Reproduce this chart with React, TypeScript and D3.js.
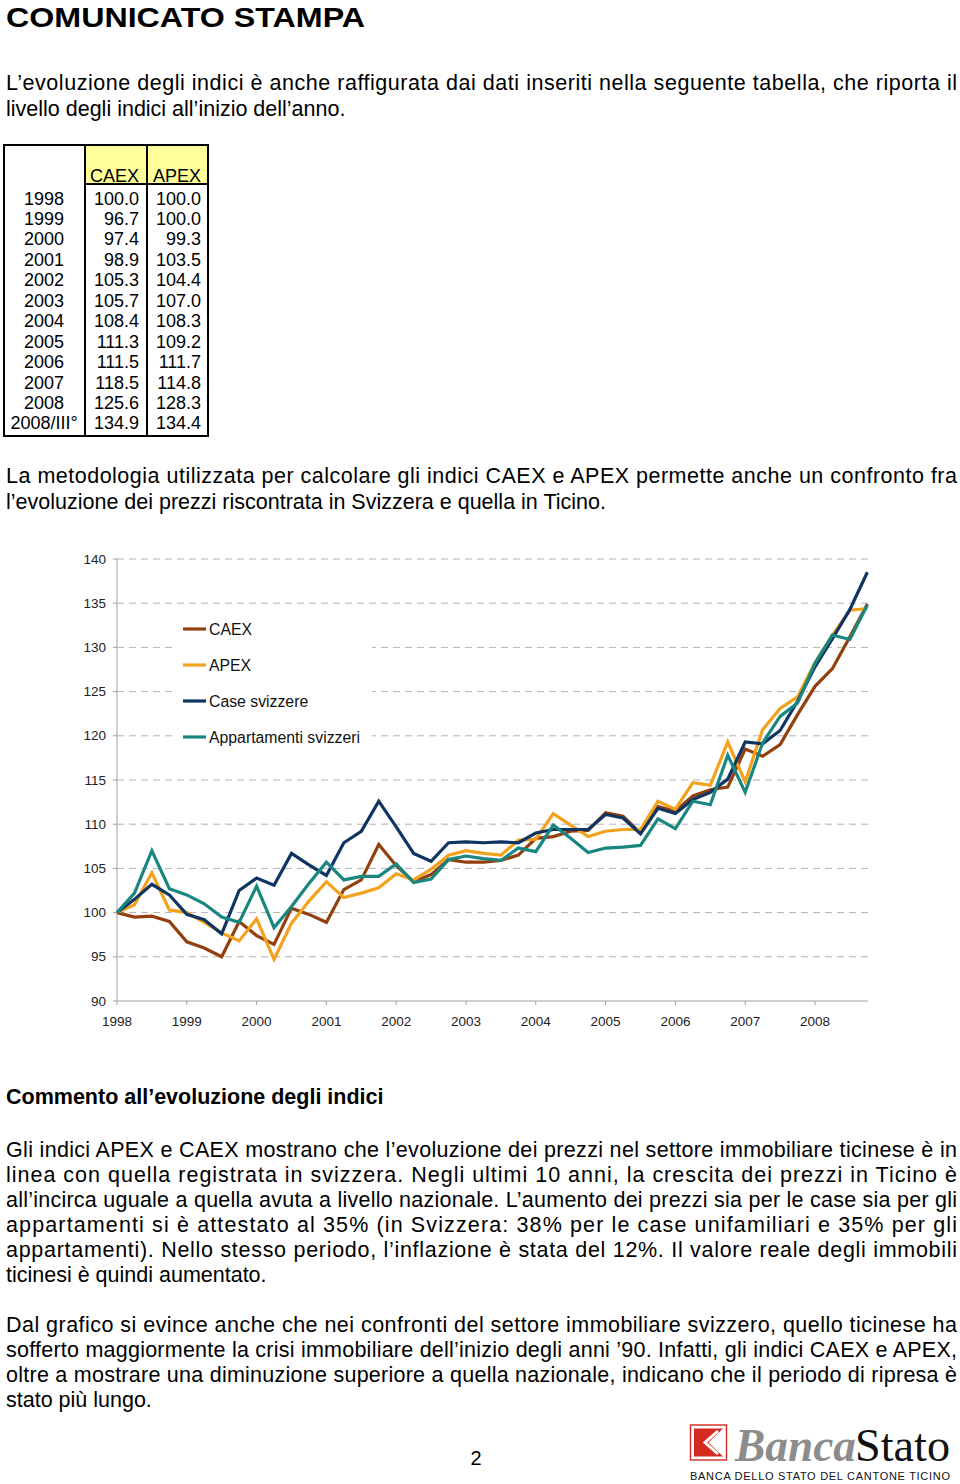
import React from "react";
import * as d3 from "d3";

// ---------- DATA ----------
const yearLabels = ["1998", "1999", "2000", "2001", "2002", "2003", "2004", "2005", "2006", "2007", "2008"];
const yTicks = [90, 95, 100, 105, 110, 115, 120, 125, 130, 135, 140];

// quarterly values, 1998 Q1 ... 2008 Q4
const caex = [
  100.0, 99.5, 99.6, 99.0, 96.7, 96.0, 95.0, 99.0, 97.4, 96.4, 100.5, 99.8,
  98.9, 102.6, 103.7, 107.7, 105.3, 103.5, 104.3, 106.0, 105.7, 105.7, 105.9, 106.5,
  108.4, 108.6, 109.2, 109.3, 111.3, 110.9, 109.0, 112.0, 111.5, 113.2, 113.9, 114.2,
  118.5, 117.7, 119.0, 122.4, 125.6, 127.6, 131.2, 134.9,
];
const apex = [
  100.0, 100.9, 104.5, 100.3, 100.0, 98.9, 97.7, 96.8, 99.3, 94.7, 98.8, 101.3,
  103.5, 101.7, 102.2, 102.8, 104.4, 103.7, 104.9, 106.5, 107.0, 106.7, 106.5, 108.2,
  108.3, 111.2, 109.9, 108.6, 109.2, 109.4, 109.4, 112.6, 111.7, 114.7, 114.4, 119.3,
  114.8, 120.7, 123.1, 124.4, 128.3, 131.4, 134.2, 134.4,
];
const caseSvizzere = [
  100.0, 101.5, 103.2, 102.0, 99.8, 99.2, 97.6, 102.5, 103.9, 103.1, 106.7, 105.4,
  104.2, 107.9, 109.2, 112.6, 109.7, 106.7, 105.8, 107.9, 108.0, 107.9, 108.0, 107.9,
  109.0, 109.4, 109.4, 109.4, 111.1, 110.7, 108.9, 111.8, 111.2, 112.8, 113.6, 115.1,
  119.3, 119.1, 120.6, 123.9, 127.8, 131.0, 134.3, 138.5,
];
const appartamentiSvizzeri = [
  100.0, 102.2, 107.0, 102.7, 102.0, 101.0, 99.5, 98.9, 103.0, 98.3, 100.7, 103.3,
  105.7, 103.7, 104.1, 104.1, 105.5, 103.4, 103.8, 106.0, 106.4, 106.1, 105.9, 107.3,
  106.9, 109.9, 108.4, 106.8, 107.3, 107.4, 107.6, 110.6, 109.5, 112.6, 112.2, 117.8,
  113.6, 119.2, 122.2, 123.7, 128.2, 131.4, 130.9, 134.8,
];
const seriesNames = ["CAEX", "APEX", "Case svizzere", "Appartamenti svizzeri"];
const seriesColors = ["#93400f", "#f2a21c", "#0f3563", "#19877f"];
const seriesValues = [caex, apex, caseSvizzere, appartamentiSvizzeri];

// table
const tableYears = ["1998", "1999", "2000", "2001", "2002", "2003", "2004", "2005", "2006", "2007", "2008", "2008/III°"];
const tableCAEX = ["100.0", "96.7", "97.4", "98.9", "105.3", "105.7", "108.4", "111.3", "111.5", "118.5", "125.6", "134.9"];
const tableAPEX = ["100.0", "100.0", "99.3", "103.5", "104.4", "107.0", "108.3", "109.2", "111.7", "114.8", "128.3", "134.4"];

// texts
const title = "COMUNICATO STAMPA";
const para1 = [
  "L’evoluzione degli indici è anche raffigurata dai dati inseriti nella seguente tabella, che riporta il",
  "livello degli indici all’inizio dell’anno.",
];
const para2 = [
  "La metodologia utilizzata per calcolare gli indici CAEX e APEX permette anche un confronto fra",
  "l’evoluzione dei prezzi riscontrata in Svizzera e quella in Ticino.",
];
const heading2 = "Commento all’evoluzione degli indici";
const para3 = [
  "Gli indici APEX e CAEX mostrano che l’evoluzione dei prezzi nel settore immobiliare ticinese è in",
  "linea con quella registrata in svizzera. Negli ultimi 10 anni, la crescita dei prezzi in Ticino è",
  "all’incirca uguale a quella avuta a livello nazionale. L’aumento dei prezzi sia per le case sia per gli",
  "appartamenti si è attestato al 35% (in Svizzera: 38% per le case unifamiliari e 35% per gli",
  "appartamenti). Nello stesso periodo, l’inflazione è stata del 12%. Il valore reale degli immobili",
  "ticinesi è quindi aumentato.",
];
const para4 = [
  "Dal grafico si evince anche che nei confronti del settore immobiliare svizzero, quello ticinese ha",
  "sofferto maggiormente la crisi immobiliare dell’inizio degli anni ’90. Infatti, gli indici CAEX e APEX,",
  "oltre a mostrare una diminuzione superiore a quella nazionale, indicano che il periodo di ripresa è",
  "stato più lungo.",
];

const SANS = "'Liberation Sans', Arial, Helvetica, sans-serif";
const SERIF = "'Liberation Serif', 'Times New Roman', serif";

function Paragraph({ lines, y0, step }: { lines: string[]; y0: number; step: number }) {
  return (
    <g>
      {lines.map((l, i) => {
        const last = i === lines.length - 1;
        return (
          <text
            key={i}
            x={6}
            y={y0 + i * step}
            fontSize={21.5}
            fontFamily={SANS}
            fill="#000"
            {...(last ? {} : { textLength: 951, lengthAdjust: "spacing" })}
          >
            {l}
          </text>
        );
      })}
    </g>
  );
}

function Table() {
  const left = 4, c1 = 85, c2 = 147, right = 208, top = 145, headBottom = 184, bottom = 436;
  const rowH = 20.45;
  const firstY = 204.5;
  return (
    <g fontFamily={SANS} fontSize={18}>
      <rect x={c1} y={top} width={right - c1} height={headBottom - top} fill="#ffff99" />
      <rect x={left} y={top} width={right - left} height={bottom - top} fill="none" stroke="#000" strokeWidth={2} />
      <line x1={c1} x2={c1} y1={top} y2={bottom} stroke="#000" strokeWidth={2} />
      <line x1={c2} x2={c2} y1={top} y2={bottom} stroke="#000" strokeWidth={2} />
      <line x1={c1} x2={right} y1={headBottom} y2={headBottom} stroke="#000" strokeWidth={2} />
      <text x={139} y={182} textAnchor="end">CAEX</text>
      <text x={201} y={182} textAnchor="end">APEX</text>
      {tableYears.map((yr, i) => (
        <g key={yr}>
          <text x={44} y={firstY + i * rowH} textAnchor="middle">{yr}</text>
          <text x={139} y={firstY + i * rowH} textAnchor="end">{tableCAEX[i]}</text>
          <text x={201} y={firstY + i * rowH} textAnchor="end">{tableAPEX[i]}</text>
        </g>
      ))}
    </g>
  );
}

function Chart() {
  const x = d3.scaleLinear().domain([0, 40]).range([117, 815]);
  const y = d3.scaleLinear().domain([90, 140]).range([1001, 559]);
  const xRight = 868;
  const line = d3
    .line<number>()
    .x((_, i) => x(i))
    .y((d) => y(d));
  const legendY = [629, 665, 701, 737];
  return (
    <g fontFamily={SANS}>
      {yTicks.map((t) => (
        <g key={t}>
          {t > 90 && (
            <line x1={x(0)} x2={xRight} y1={y(t)} y2={y(t)} stroke="#b3b3b3" strokeWidth={1} strokeDasharray="7,5" />
          )}
          <line x1={x(0) - 4} x2={x(0)} y1={y(t)} y2={y(t)} stroke="#a0a0a0" strokeWidth={1} />
          <text x={106} y={y(t) + 4.5} fontSize={13.5} textAnchor="end" fill="#222">
            {t}
          </text>
        </g>
      ))}
      <line x1={x(0)} x2={x(0)} y1={y(140)} y2={y(90)} stroke="#a0a0a0" strokeWidth={1} />
      <line x1={x(0)} x2={xRight} y1={y(90)} y2={y(90)} stroke="#a0a0a0" strokeWidth={1} />
      {yearLabels.map((yl, k) => (
        <g key={yl}>
          <line x1={x(k * 4)} x2={x(k * 4)} y1={y(90)} y2={y(90) + 4} stroke="#a0a0a0" strokeWidth={1} />
          <text x={x(k * 4)} y={1026} fontSize={13.5} textAnchor="middle" fill="#222">
            {yl}
          </text>
        </g>
      ))}
      {/* legend background */}
      <rect x={176} y={612} width={196} height={140} fill="#fff" />
      {seriesValues.map((vals, s) => (
        <path key={s} d={line(vals) || ""} fill="none" stroke={seriesColors[s]} strokeWidth={3.2} strokeLinejoin="miter" />
      ))}
      {seriesNames.map((n, s) => (
        <g key={n}>
          <line x1={183} x2={206} y1={legendY[s]} y2={legendY[s]} stroke={seriesColors[s]} strokeWidth={3.2} />
          <text x={209} y={legendY[s] + 5.5} fontSize={15.8} fill="#111">
            {n}
          </text>
        </g>
      ))}
    </g>
  );
}

function Logo() {
  const red = "#d42a1f";
  return (
    <g>
      <rect x={690.5} y={1425} width={36} height={35} fill="#fff" stroke={red} strokeWidth={1.4} />
      <polygon points="694,1428.5 723,1428.5 708.5,1442.5 723,1456.5 694,1456.5" fill={red} />
      <polyline points="718,1431 705,1442.5 718,1454" fill="none" stroke="#fff" strokeWidth={3} />
      <text x={735} y={1461} fontFamily={SERIF} fontStyle="italic" fontWeight="bold" fontSize={47} fill="#8c8c8c" textLength={121} lengthAdjust="spacingAndGlyphs">
        Banca
      </text>
      <text x={855} y={1461} fontFamily={SERIF} fontSize={47} fill="#111" textLength={95} lengthAdjust="spacingAndGlyphs">
        Stato
      </text>
      <text x={690} y={1480} fontFamily={SANS} fontSize={11} fill="#111" textLength={260} lengthAdjust="spacing">
        BANCA DELLO STATO DEL CANTONE TICINO
      </text>
    </g>
  );
}

export default function App() {
  return (
    <svg
      width={960}
      height={1484}
      viewBox="0 0 960 1484"
      style={{ position: "absolute", left: 0, top: 0, background: "#fff" }}
    >
      <rect x={0} y={0} width={960} height={1484} fill="#fff" />
      <text x={6} y={27} fontFamily={SANS} fontWeight="bold" fontSize={28.5} fill="#000" textLength={359} lengthAdjust="spacingAndGlyphs">
        {title}
      </text>
      <Paragraph lines={para1} y0={90} step={26} />
      <Table />
      <Paragraph lines={para2} y0={483} step={26} />
      <Chart />
      <text x={6} y={1103.5} fontFamily={SANS} fontWeight="bold" fontSize={21.5} fill="#000">
        {heading2}
      </text>
      <Paragraph lines={para3} y0={1157} step={25} />
      <Paragraph lines={para4} y0={1332} step={25} />
      <text x={476} y={1465} fontFamily={SANS} fontSize={20} textAnchor="middle" fill="#000">
        2
      </text>
      <Logo />
    </svg>
  );
}
